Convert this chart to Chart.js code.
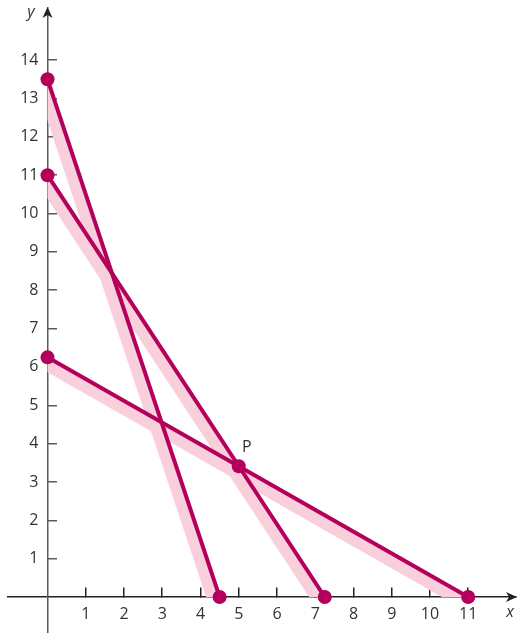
<!DOCTYPE html>
<html>
<head>
<meta charset="utf-8">
<script src="https://cdn.jsdelivr.net/npm/chart.js@4.4.1/dist/chart.umd.min.js"></script>
<style>
  html, body { margin: 0; padding: 0; background: #fff; }
  #wrap { width: 518px; height: 633px; position: relative; }
</style>
</head>
<body>
<div id="wrap"><canvas id="chart"></canvas></div>
<script>
// ---- data ----
const xIntercepts = [4.5, 7.25, 11];        // where each line meets the x axis
const yIntercepts = [13.5, 11, 6.25];        // where each line meets the y axis
const bandXIntercepts = [4.34, 7.06, 10.68]; // pink shadow band, centre line
const bandYIntercepts = [13.0, 10.72, 6.07];
const pointP = { x: 5, y: 3.41 };
const xTicks = [1, 2, 3, 4, 5, 6, 7, 8, 9, 10, 11];
const yTicks = [1, 2, 3, 4, 5, 6, 7, 8, 9, 10, 11, 12, 13, 14];

const LINE = '#b3005c';
const BAND = '#f8cfdb';
const AXIS_X = '#222';
const AXIS_Y = '#5a5a5a';
const TEXT = '#333';
const FONT = "'Open Sans', 'Noto Sans', sans-serif";

const lineSets = xIntercepts.map((a, i) => ({
  data: [{ x: 0, y: yIntercepts[i] }, { x: a, y: 0 }],
  borderColor: LINE,
  backgroundColor: LINE,
  borderWidth: 4,
  borderCapStyle: 'round',
  pointRadius: 7,
  pointHoverRadius: 7,
  pointBorderWidth: 0,
  showLine: true,
  order: 1,
}));

// band: straight line through its two intercepts, run a little past both axes,
// then clipped to the first quadrant by the plugin below
const bandSets = bandXIntercepts.map((a, i) => {
  const b = bandYIntercepts[i];
  const at = (t) => ({ x: a * t, y: b * (1 - t) });
  return {
    data: [at(-0.2), at(1.2)],
    borderColor: BAND,
    borderWidth: 14,
    borderCapStyle: 'butt',
    pointRadius: 0,
    showLine: true,
    isBand: true,
    order: 3,
  };
});

const pSet = {
  data: [pointP],
  backgroundColor: LINE,
  borderWidth: 0,
  pointRadius: 7,
  showLine: false,
  order: 0,
};

const quadrantClip = {
  id: 'quadrantClip',
  beforeDatasetDraw(chart, args) {
    if (!args.meta._dataset.isBand) return;
    const { ctx, chartArea, scales: { x, y } } = chart;
    const x0 = x.getPixelForValue(0);
    const y0 = y.getPixelForValue(0);
    ctx.save();
    ctx.beginPath();
    ctx.rect(x0, chartArea.top, chartArea.right - x0, y0 - chartArea.top);
    ctx.clip();
  },
  afterDatasetDraw(chart, args) {
    if (args.meta._dataset.isBand) chart.ctx.restore();
  },
};

const decorations = {
  id: 'decorations',
  afterDraw(chart) {
    const { ctx, chartArea, scales: { x, y } } = chart;
    const x0 = x.getPixelForValue(0);
    const y0 = y.getPixelForValue(0);
    ctx.save();
    // arrow heads
    ctx.fillStyle = AXIS_X;
    const tipX = chartArea.right + 1;
    ctx.beginPath();
    ctx.moveTo(tipX, y0);
    ctx.lineTo(tipX - 11, y0 - 5);
    ctx.lineTo(tipX - 8, y0);
    ctx.lineTo(tipX - 11, y0 + 5);
    ctx.closePath();
    ctx.fill();
    const tipY = chartArea.top - 1;
    ctx.beginPath();
    ctx.moveTo(x0, tipY);
    ctx.lineTo(x0 - 5, tipY + 11);
    ctx.lineTo(x0, tipY + 8);
    ctx.lineTo(x0 + 5, tipY + 11);
    ctx.closePath();
    ctx.fill();
    // axis names and point label
    ctx.fillStyle = TEXT;
    ctx.textAlign = 'center';
    ctx.textBaseline = 'middle';
    ctx.font = 'italic 16px ' + FONT;
    ctx.fillText('x', 510, 612);
    ctx.fillText('y', 31, 12);
    ctx.font = '16px ' + FONT;
    ctx.fillText('P', x.getPixelForValue(pointP.x) + 8, y.getPixelForValue(pointP.y) - 19);
    ctx.restore();
  },
};

const fixedTicks = (vals) => (scale) => { scale.ticks = vals.map((v) => ({ value: v })); };
const noPad = (scale) => {
  scale.paddingTop = 0; scale.paddingBottom = 0;
  scale.paddingLeft = 0; scale.paddingRight = 0;
};

new Chart(document.getElementById('chart'), {
  type: 'scatter',
  data: { datasets: [...lineSets, ...bandSets, pSet] },
  plugins: [quadrantClip, decorations],
  options: {
    responsive: true,
    maintainAspectRatio: false,
    animation: false,
    layout: { autoPadding: false, padding: { left: 8, top: 8, right: 2, bottom: 0 } },
    plugins: { legend: { display: false }, tooltip: { enabled: false } },
    scales: {
      x: {
        type: 'linear',
        min: -1.033,
        max: 12.25,
        position: { y: 0 },
        afterBuildTicks: fixedTicks(xTicks),
        afterFit: noPad,
        border: { display: true, color: AXIS_X, width: 1.5 },
        grid: { drawOnChartArea: false, drawTicks: true, tickLength: -10, color: AXIS_X, lineWidth: 1.5 },
        ticks: { color: TEXT, padding: 18, font: { family: FONT, size: 16 } },
      },
      y: {
        type: 'linear',
        min: -0.939,
        max: 15.36,
        position: { x: 0 },
        afterBuildTicks: fixedTicks(yTicks),
        afterFit: noPad,
        border: { display: true, color: AXIS_Y, width: 1.5 },
        grid: { drawOnChartArea: false, drawTicks: true, tickLength: -10, color: AXIS_Y, lineWidth: 1.5 },
        ticks: { display: false },
      },
      yLabels: {
        type: 'linear',
        axis: 'y',
        min: -0.939,
        max: 15.36,
        position: { x: -0.235 },
        afterBuildTicks: fixedTicks(yTicks),
        afterFit: noPad,
        border: { display: false },
        grid: { display: false, drawTicks: false },
        ticks: { color: TEXT, padding: 0, font: { family: FONT, size: 16 } },
      },
    },
  },
});
</script>
</body>
</html>
